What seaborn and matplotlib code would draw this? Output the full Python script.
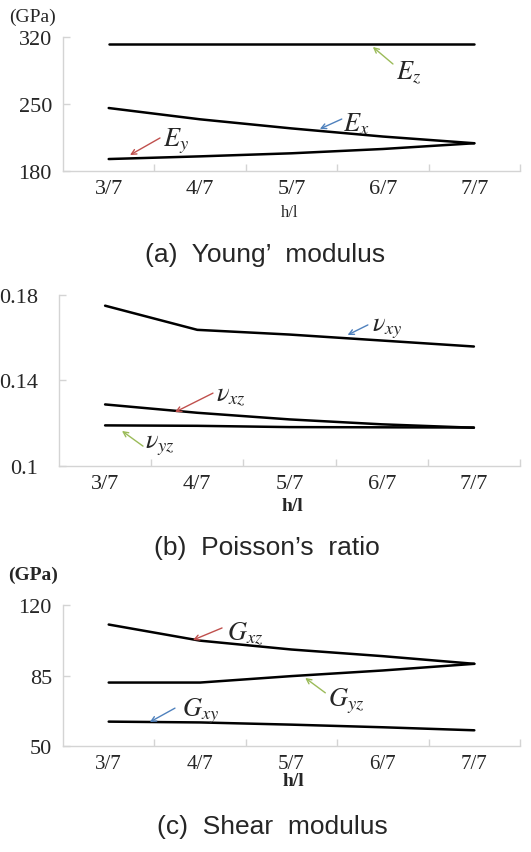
import matplotlib
matplotlib.use("Agg")
import matplotlib.pyplot as plt
import pandas as pd
import seaborn as sns

# ---------------- data ----------------
ratios = ["3/7", "4/7", "5/7", "6/7", "7/7"]

E_x = [245.8, 234.0, 224.5, 216.0, 209.0]
E_y = [192.5, 195.3, 198.5, 203.0, 209.0]
E_z = [313.0, 313.0, 313.0, 313.0, 313.0]

nu_xy = [0.1750, 0.1637, 0.1615, 0.1587, 0.1559]
nu_xz = [0.1288, 0.1249, 0.1218, 0.1195, 0.1179]
nu_yz = [0.1190, 0.1188, 0.1182, 0.1181, 0.1180]

G_xz = [110.3, 102.3, 97.9, 94.6, 90.8]
G_yz = [81.5, 81.5, 84.7, 87.5, 90.8]
G_xy = [62.1, 61.7, 60.6, 59.3, 57.8]

yticks_a = [180, 250, 320]
yticks_b = [0.10, 0.14, 0.18]
ytick_labels_b = ["0.1", "0.14", "0.18"]
yticks_c = [50, 85, 120]

captions = ["(a)  Young\u2019  modulus", "(b)  Poisson\u2019s  ratio", "(c)  Shear  modulus"]

# ---------------- style ----------------
sns.set_style("ticks")
plt.rcParams["font.family"] = ["Liberation Serif", "DejaVu Serif"]
plt.rcParams["mathtext.fontset"] = "stix"

W, H = 531, 853
fig = plt.figure(figsize=(W / 100, H / 100), dpi=100)


def fx(px):
    return px / W


def fy(py):
    return 1 - py / H


def make_axes(left, right, top, bottom):
    return fig.add_axes([fx(left), fy(bottom), fx(right) - fx(left), fy(top) - fy(bottom)])


SPINE = "#d4d4d4"
BLUE, RED, GREEN = "#4f81bd", "#c0504d", "#9bbb59"


def long_df(series):
    rows = []
    for name, vals in series.items():
        for r, v in zip(ratios, vals):
            rows.append({"ratio": r, "value": v, "series": name})
    return pd.DataFrame(rows)


def style_axes(ax, ylim, yticks, ylabels, xpad, ypad, xsize, ysize):
    ax.set_xlim(-0.5, 4.5)
    ax.set_ylim(*ylim)
    ax.set_xticks(range(len(ratios)))
    ax.set_xticklabels(ratios, fontsize=xsize)
    ax.set_xticks([i + 0.5 for i in range(len(ratios))], minor=True)
    ax.tick_params(axis="x", which="major", length=0, pad=xpad)
    ax.tick_params(axis="x", which="minor", direction="in", length=5, color=SPINE, width=1)
    ax.set_yticks(yticks)
    ax.set_yticklabels(ylabels, fontsize=ysize)
    ax.tick_params(axis="y", which="major", direction="in", length=5, color=SPINE, width=1, pad=ypad)
    for s in ["top", "right"]:
        ax.spines[s].set_visible(False)
    for s in ["left", "bottom"]:
        ax.spines[s].set_color(SPINE)
        ax.spines[s].set_linewidth(1)
    ax.set_xlabel("")
    ax.set_ylabel("")


def arrow(ax, head, tail, color):
    ax.annotate("", xy=head, xytext=tail,
                arrowprops=dict(arrowstyle="->", color=color, lw=1.0,
                                shrinkA=0, shrinkB=0, mutation_scale=9))


def label(ax, x, y, s):
    ax.text(x, y, s, fontsize=19, ha="left", va="center")


LW = 1.8

# ---------------- panel (a) ----------------
ax1 = make_axes(63, 520, 38, 172)
df_a = long_df({"Ex": E_x, "Ey": E_y, "Ez": E_z})
sns.lineplot(data=df_a, x="ratio", y="value", hue="series",
             palette={"Ex": "black", "Ey": "black", "Ez": "black"},
             sort=False, legend=False, linewidth=LW, ax=ax1)
style_axes(ax1, (180, 320), yticks_a, [str(v) for v in yticks_a], 6, 8, 16, 16)
arrow(ax1, (2.89, 309.6), (3.11, 291.8), GREEN)
label(ax1, 3.14, 284.4, r"$E_z$")
arrow(ax1, (2.31, 223.9), (2.55, 234.3), BLUE)
label(ax1, 2.56, 230.1, r"$E_x$")
arrow(ax1, (0.233, 196.7), (0.561, 214.5), RED)
label(ax1, 0.594, 212.3, r"$E_y$")
fig.text(fx(33), fy(17), "(GPa)", fontsize=14, ha="center", va="center")
fig.text(fx(290), fy(213), "h/l", fontsize=12, ha="center", va="center")

# ---------------- panel (b) ----------------
ax2 = make_axes(59, 520, 296, 467)
df_b = long_df({"xy": nu_xy, "xz": nu_xz, "yz": nu_yz})
sns.lineplot(data=df_b, x="ratio", y="value", hue="series",
             palette={"xy": "black", "xz": "black", "yz": "black"},
             sort=False, legend=False, linewidth=LW, ax=ax2)
style_axes(ax2, (0.10, 0.18), yticks_b, ytick_labels_b, 6, 15, 16, 16)
arrow(ax2, (2.63, 0.1613), (2.85, 0.1660), BLUE)
label(ax2, 2.89, 0.1645, r"$\nu_{xy}$")
arrow(ax2, (0.758, 0.1252), (1.17, 0.1341), RED)
label(ax2, 1.20, 0.1327, r"$\nu_{xz}$")
arrow(ax2, (0.183, 0.1164), (0.411, 0.1093), GREEN)
label(ax2, 0.433, 0.1097, r"$\nu_{yz}$")
fig.text(fx(292), fy(507), "h/l", fontsize=14, fontweight="bold", ha="center", va="center")

# ---------------- panel (c) ----------------
ax3 = make_axes(63, 520, 606, 747)
df_c = long_df({"xz": G_xz, "yz": G_yz, "xy": G_xy})
sns.lineplot(data=df_c, x="ratio", y="value", hue="series",
             palette={"xz": "black", "yz": "black", "xy": "black"},
             sort=False, legend=False, linewidth=LW, ax=ax3)
style_axes(ax3, (50, 120), yticks_c, [str(v) for v in yticks_c], 6, 8, 15, 16)
arrow(ax3, (0.922, 102.6), (1.24, 108.6), RED)
label(ax3, 1.29, 106.3, r"$G_{xz}$")
arrow(ax3, (2.15, 83.8), (2.37, 76.4), GREEN)
label(ax3, 2.40, 72.5, r"$G_{yz}$")
arrow(ax3, (0.45, 61.9), (0.725, 68.8), BLUE)
label(ax3, 0.80, 67.6, r"$G_{xy}$")
fig.text(fx(33), fy(575), "(GPa)", fontsize=14, fontweight="bold", ha="center", va="center")
fig.text(fx(293), fy(782), "h/l", fontsize=14, fontweight="bold", ha="center", va="center")

# ---------------- captions ----------------
cap_font = ["Liberation Sans", "DejaVu Sans"]
fig.text(fx(265), fy(255), captions[0], fontsize=19, family=cap_font, ha="center", va="center")
fig.text(fx(267), fy(548), captions[1], fontsize=19, family=cap_font, ha="center", va="center")
fig.text(fx(272), fy(827), captions[2], fontsize=19, family=cap_font, ha="center", va="center")

fig.savefig("out.png", dpi=100, facecolor="white")
